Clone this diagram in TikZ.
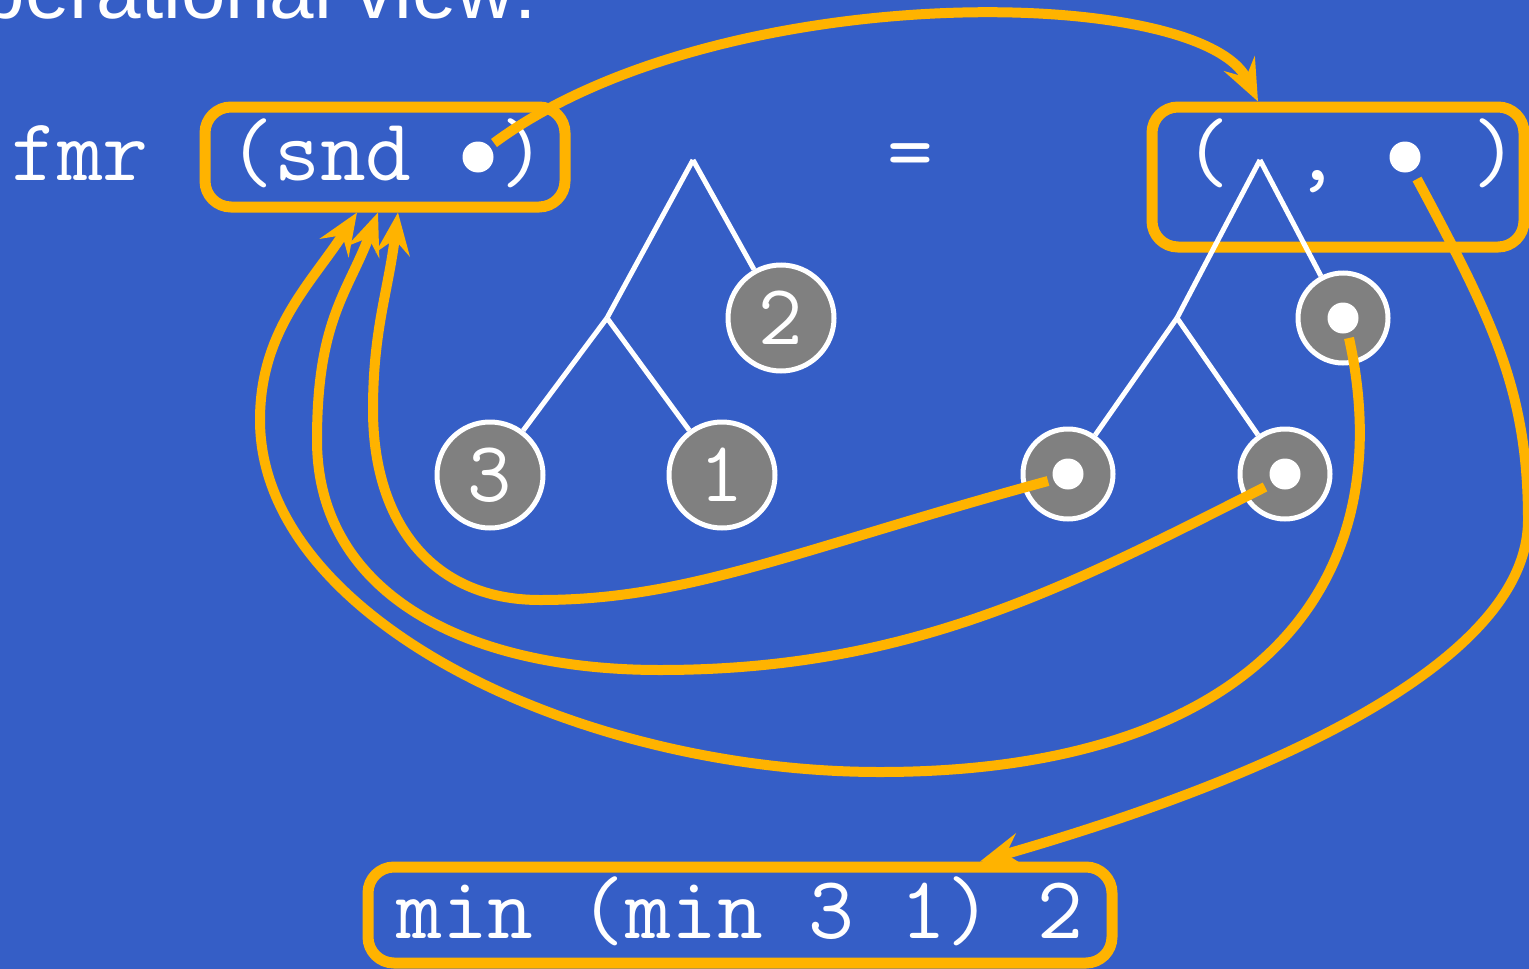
\documentclass[tikz,border=0pt]{standalone}
\usepackage{fontspec}
\setmainfont{Liberation Sans}
\usetikzlibrary{arrows.meta,calc}
\definecolor{bgblue}{HTML}{355EC6}
\definecolor{gold}{HTML}{FFB300}
\definecolor{nodegray}{HTML}{808080}
\begin{document}
\begin{tikzpicture}[x=1pt,y=-1pt,
  codetxt/.style={text=white,font=\ttfamily\fontsize{89}{90}\selectfont,inner sep=0pt},
  gbox/.style={draw=gold,line width=11pt,rounded corners=26pt,inner sep=0pt},
  leafnum/.style={circle,draw=white,line width=5pt,fill=nodegray,minimum size=106pt,inner sep=0pt,text=white,font=\ttfamily\fontsize{86}{88}\selectfont},
  leafdot/.style={circle,draw=white,line width=5pt,fill=nodegray,minimum size=90pt,inner sep=0pt},
  wdot/.style={circle,fill=white,minimum size=31pt,inner sep=0pt},
  branch/.style={draw=white,line width=5pt},
  flow/.style={draw=gold,line width=10pt,-{Stealth[length=42pt,width=34pt,inset=15pt]}},
]
\fill[bgblue] (0,0) rectangle (1529,969);
\useasboundingbox (0,0) rectangle (1529,969);

\node[anchor=base east,text=white,font=\fontsize{80}{82}\selectfont,inner sep=0pt] (title) at (537,19) {operational view:};

\node[gbox,minimum width=360pt,minimum height=100pt] (boxL) at (385,157) {};
\node[gbox,minimum width=372pt,minimum height=140pt] (boxR) at (1338,177) {};
\node[gbox,minimum width=744pt,minimum height=96pt] (boxB) at (740,915) {};

\node[codetxt,anchor=base] (fmr) at (80,180) {fmr};
\node[codetxt,anchor=base] (sndL) at (320,180) {(snd};
\node[codetxt,anchor=base] (parL) at (523,180) {)};
\node[wdot] (bulL) at (478,157) {};
\node[codetxt,anchor=base] (eq) at (910,180) {=};
\node[codetxt,anchor=base] (lpR) at (1207,180) {(};
\node[codetxt,anchor=base] (comR) at (1317,180) {,};
\node[codetxt,anchor=base] (rpR) at (1495,180) {)};
\node[wdot] (bulR) at (1405,157) {};
\node[codetxt,anchor=base] (expr) at (740,938) {min (min 3 1) 2};

% left tree
\coordinate (topL) at (693,160);
\coordinate (midL) at (607,318);
\node[leafnum] (n2) at (781,318) {2};
\node[leafnum] (n3) at (490,475) {3};
\node[leafnum] (n1) at (722,475) {1};
\draw[branch] (topL) -- (midL);
\draw[branch] (topL) -- (n2);
\draw[branch] (midL) -- (n3);
\draw[branch] (midL) -- (n1);

% right tree
\coordinate (topR) at (1260,160);
\coordinate (midR) at (1177,318);
\node[leafdot] (r2) at (1343,318) {};
\node[leafdot] (r3) at (1068,474) {};
\node[leafdot] (r1) at (1285,474) {};
\draw[branch] (topR) -- (midR);
\draw[branch] (topR) -- (r2);
\draw[branch] (midR) -- (r3);
\draw[branch] (midR) -- (r1);

% flows
\coordinate (bR1) at (1528,520);
\coordinate (c1) at (880,772);
\coordinate (c2) at (260,420);
\coordinate (dd1) at (660,670);
\coordinate (dd2) at (317,440);
\coordinate (e1) at (540,600);
\coordinate (e2) at (373,410);

\draw[flow] ($(bulL)+(16,-14)$) .. controls +(223,-165) and +(-58,-118) .. ([xshift=-80pt]boxR.north);
\draw[flow] ($(bulR)+(12,22)$) .. controls +(75,140) and +(0,-130) .. (bR1) .. controls +(0,130) and +(330,-95) .. ([xshift=240pt]boxB.north);
\draw[flow] ($(r2)+(6,20)$) .. controls +(55,250) and +(370,0) .. (c1) .. controls +(-300,0) and +(0,200) .. (c2) .. controls +(0,-90) and +(-45,70) .. ([xshift=-28pt]boxL.south);
\draw[flow] ($(r1)+(-20,13)$) .. controls +(-200,101) and +(250,0) .. (dd1) .. controls +(-200,0) and +(0,150) .. (dd2) .. controls +(0,-120) and +(-30,80) .. ([xshift=-7pt]boxL.south);
\draw[flow] ($(r3)+(-20,7)$) .. controls +(-250,68) and +(150,0) .. (e1) .. controls +(-110,0) and +(0,110) .. (e2) .. controls +(0,-80) and +(-10,80) .. ([xshift=13pt]boxL.south);

\node[wdot] (d2) at (r2) {};
\node[wdot] (d3) at (r3) {};
\node[wdot] (d1) at (r1) {};
\end{tikzpicture}
\end{document}
